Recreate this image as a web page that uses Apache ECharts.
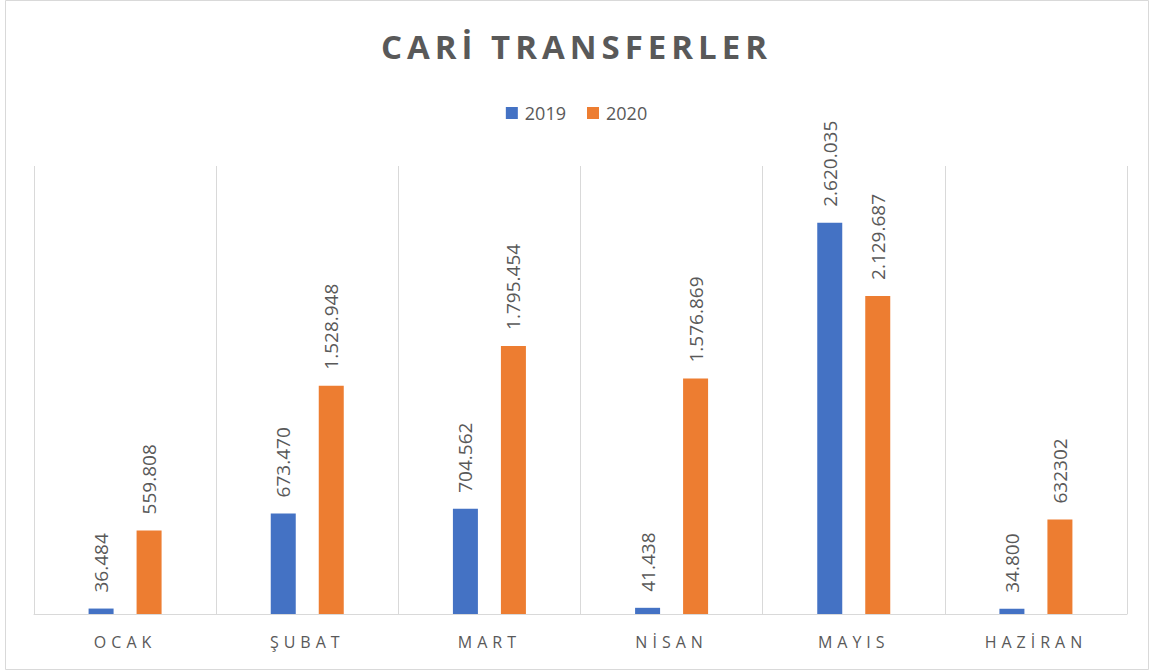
<!DOCTYPE html>
<html>
<head>
<meta charset="utf-8">
<script src="https://cdn.jsdelivr.net/npm/echarts@6/dist/echarts.min.js"></script>
<style>
html,body{margin:0;padding:0;background:#fff;}
#c{width:1153px;height:672px;}
</style>
</head>
<body>
<div id="c"></div>
<script>
const categories = ["OCAK", "ŞUBAT", "MART", "NİSAN", "MAYIS", "HAZİRAN"];
const values2019 = [36484, 673470, 704562, 41438, 2620035, 34800];
const values2020 = [559808, 1528948, 1795454, 1576869, 2129687, 632302];
const labels2019 = ["36.484", "673.470", "704.562", "41.438", "2.620.035", "34.800"];
const labels2020 = ["559.808", "1.528.948", "1.795.454", "1.576.869", "2.129.687", "632302"];
const seriesNames = ["2019", "2020"];
const titleText = "CARİ TRANSFERLER";

const chart = echarts.init(document.getElementById('c'), null, {renderer: 'svg'});
const txt = '#595959';
function lbl(arr) {
  return {
    show: true,
    position: 'top',
    rotate: 90,
    align: 'left',
    verticalAlign: 'middle',
    distance: 16,
    color: txt,
    fontSize: 19,
    fontFamily: 'Open Sans',
    formatter: p => arr[p.dataIndex]
  };
}
chart.setOption({
  backgroundColor: '#fff',
  animation: false,
  graphic: [{
    type: 'rect',
    shape: {x: 5.5, y: 0.5, width: 1143, height: 669},
    style: {fill: 'none', stroke: '#d9d9d9', lineWidth: 1},
    silent: true
  }],
  title: {
    text: titleText,
    left: 'center',
    top: 25,
    textStyle: {color: txt, fontSize: 33, fontWeight: 'bold', fontFamily: 'Open Sans'}
  },
  legend: {
    data: seriesNames,
    top: 99,
    left: 'center',
    itemWidth: 12,
    itemHeight: 12,
    itemGap: 21,
    icon: 'rect',
    textStyle: {color: txt, fontSize: 18, fontFamily: 'Open Sans', padding: [0, 0, 0, 2]}
  },
  grid: {left: 34, right: 26, top: 166, bottom: 58, containLabel: false},
  xAxis: {
    type: 'category',
    data: categories,
    axisLine: {lineStyle: {color: '#d9d9d9', width: 1}},
    axisTick: {show: false},
    splitLine: {show: true, lineStyle: {color: '#d9d9d9', width: 1}},
    axisLabel: {color: txt, fontSize: 16, fontFamily: 'Open Sans', margin: 20}
  },
  yAxis: {
    type: 'value',
    min: 0,
    max: 3000000,
    interval: 500000,
    show: false,
    splitLine: {show: false}
  },
  series: [
    {name: seriesNames[0], type: 'bar', data: values2019, itemStyle: {color: '#4472C4'},
     barWidth: 25, barGap: '92%', label: lbl(labels2019)},
    {name: seriesNames[1], type: 'bar', data: values2020, itemStyle: {color: '#ED7D31'},
     barWidth: 25, label: lbl(labels2020)}
  ]
});

function applySpacing() {
  document.querySelectorAll('#c svg text').forEach(t => {
    const s = t.textContent;
    if (s === titleText) {
      t.setAttribute('letter-spacing', '5px');
    } else if (categories.indexOf(s) >= 0) {
      t.setAttribute('letter-spacing', '5px');
    }
  });
}
try { chart.getZr().refreshImmediately(); } catch (e) {}
applySpacing();
chart.on('finished', applySpacing);
setTimeout(applySpacing, 50);
</script>
</body>
</html>
